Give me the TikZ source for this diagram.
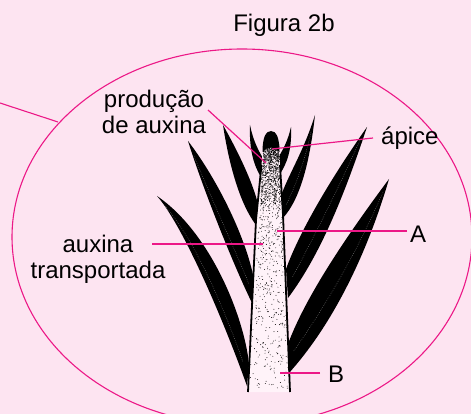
\documentclass[tikz,border=0pt]{standalone}
\usepackage{fontspec}
\setmainfont{Liberation Sans}
\definecolor{bgpink}{RGB}{253,228,241}
\definecolor{mag}{RGB}{236,24,135}
\definecolor{stempink}{RGB}{255,243,249}
\begin{document}
\begin{tikzpicture}[x=1pt,y=-1pt,
  leader/.style={draw=mag, line width=1.2pt},
  lbl/.style={font=\fontsize{24}{26}\selectfont, inner sep=0pt, anchor=base},
  leafshape/.style={fill=black},
  midrib/.style={draw=white, line width=0.4pt, dash pattern=on 0.6pt off 1.4pt, opacity=0.55}]
\fill[bgpink] (0,0) rectangle (471,414);
\useasboundingbox (0,0) rectangle (471,414);
\clip (0,0) rectangle (471,414);

% enclosing ellipse
\draw[mag, line width=1.1pt] (242,237) ellipse [x radius=230pt, y radius=188pt];

% ---- leaves, left side
\fill[leafshape] (157,196) .. controls (182,224) and (222,316) .. (247,386)
  -- (249,364) .. controls (244,316) and (210,232) .. (157,196) -- cycle;
\draw[midrib] (165,206) .. controls (195,240) and (225,310) .. (243,362);
\fill[leafshape] (188,141) .. controls (202,186) and (232,262) .. (252,303)
  -- (254,280) .. controls (247,240) and (218,180) .. (188,141) -- cycle;
\draw[midrib] (194,156) .. controls (210,195) and (235,250) .. (249,284);
\fill[leafshape] (223,125) .. controls (229,165) and (240,204) .. (256,225)
  -- (258,204) .. controls (252,180) and (237,150) .. (223,125) -- cycle;
\fill[leafshape] (250,125) .. controls (249,150) and (254,166) .. (261,177)
  -- (264,160) .. controls (258,150) and (253,140) .. (250,125) -- cycle;
% ---- leaves, right side
\fill[leafshape] (291,127) .. controls (292,150) and (287,163) .. (280,174)
  -- (278,158) .. controls (284,148) and (288,140) .. (291,127) -- cycle;
\fill[leafshape] (315,115) .. controls (310,160) and (301,198) .. (283,218)
  -- (282,193) .. controls (291,170) and (304,150) .. (315,115) -- cycle;
\draw[midrib] (311,132) .. controls (305,160) and (296,185) .. (286,205);
\fill[leafshape] (367,127) .. controls (345,193) and (321,254) .. (288,298)
  -- (286,269) .. controls (301,228) and (334,174) .. (367,127) -- cycle;
\draw[midrib] (360,140) .. controls (340,185) and (315,235) .. (292,278);
\fill[leafshape] (389,179) .. controls (367,254) and (333,324) .. (289,373)
  -- (288,344) .. controls (305,298) and (345,238) .. (389,179) -- cycle;
\draw[midrib] (383,192) .. controls (360,245) and (330,300) .. (293,352);

% ---- stem
\fill[stempink] (248,392) -- (256,220) -- (261.5,165)
  .. controls (263.5,140) and (267,131) .. (271,131)
  .. controls (276,131) and (279.5,140) .. (280,165)
  -- (283,215) -- (290,392) -- cycle;
\pgfmathsetseed{7}
\foreach \i in {1,...,800}{
  \pgfmathsetmacro\ry{rnd}
  \pgfmathsetmacro\rx{rnd}
  \pgfmathsetmacro\yy{146+243*pow(\ry,1.7)}
  \pgfmathsetmacro\xl{263.5-14.5*(\yy-146)/244}
  \pgfmathsetmacro\xr{279+10*(\yy-146)/244}
  \pgfmathsetmacro\xx{\xl+(\xr-\xl)*\rx}
  \fill[black] (\xx,\yy) circle (0.45pt);
}
\foreach \i in {1,...,650}{
  \pgfmathsetmacro\ry{rnd}
  \pgfmathsetmacro\rx{rnd}
  \pgfmathsetmacro\yy{145+60*pow(\ry,1.6)}
  \pgfmathsetmacro\xl{263.5-14.5*(\yy-146)/244}
  \pgfmathsetmacro\xr{279+10*(\yy-146)/244}
  \pgfmathsetmacro\xx{\xl+(\xr-\xl)*\rx}
  \fill[black] (\xx,\yy) circle (0.45pt);
}
\draw[black, line width=1.8pt] (248,392) -- (256,220) -- (261.5,165);
\draw[black, line width=1.8pt] (280,165) -- (283,215) -- (290,392);
\fill[black] (262.5,152) .. controls (262.5,137) and (266,131) .. (271,131)
  .. controls (276,131) and (279.5,137) .. (279.5,152)
  .. controls (276,146) and (266,146) .. (262.5,152) -- cycle;

% ---- labels
\node[lbl] (fig) at (284,32) {Figura 2b};
\node[lbl] (prodA) at (154,108) {produção};
\node[lbl] (prodB) at (154,134) {de auxina};
\node[lbl, anchor=base west] (apice) at (381,145) {ápice};
\node[lbl, anchor=base west] (lA) at (410,242) {A};
\node[lbl, anchor=base west] (lB) at (328,382) {B};
\node[lbl] (auxA) at (98,252) {auxina};
\node[lbl] (auxB) at (98,278) {transportada};

% ---- leader lines
\coordinate (p1) at (208,110); \coordinate (p2) at (266,163);
\coordinate (a1) at (373,138); \coordinate (a2) at (272,149);
\coordinate (A1) at (407,231); \coordinate (A2) at (277,231);
\coordinate (t1) at (152,244); \coordinate (t2) at (263,244);
\coordinate (B1) at (320,373); \coordinate (B2) at (280,373);
\coordinate (o1) at (0,103);   \coordinate (o2) at (58,122);
\draw[leader] (p1) -- (p2);
\draw[leader] (a1) -- (a2);
\draw[leader] (A1) -- (A2);
\draw[leader] (t1) -- (t2);
\draw[leader] (B1) -- (B2);
\draw[leader, line width=1.1pt] (o1) -- (o2);
\end{tikzpicture}
\end{document}
